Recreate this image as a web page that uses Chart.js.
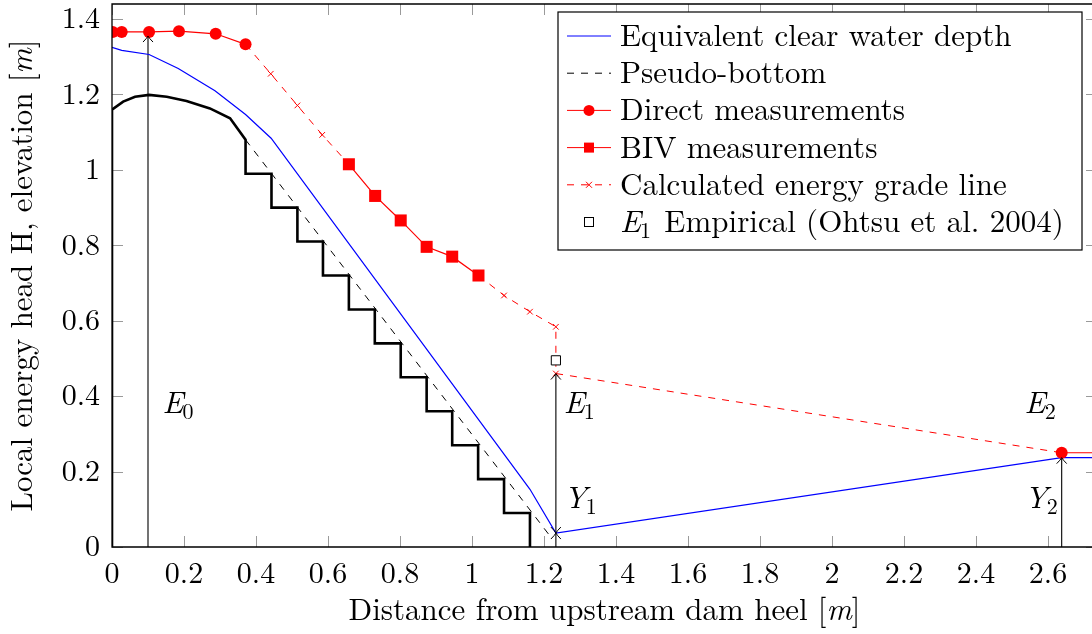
<!DOCTYPE html>
<html>
<head>
<meta charset="utf-8">
<script src="https://cdn.jsdelivr.net/npm/chart.js@4.4.1/dist/chart.umd.min.js"></script>
<style>
  html, body { margin: 0; padding: 0; background: #fff; overflow: hidden; }
  #wrap { width: 1092px; height: 634px; }
  .preload { position: absolute; left: 0; top: 0; visibility: hidden; font-family: "Latin Modern Roman", serif; }
</style>
</head>
<body>
<span class="preload">Distance <i>E m</i></span>
<div id="wrap"><canvas id="energyChart" width="1092" height="634"></canvas></div>
<script>
// values, distances and elevations in m
const xTicks = [0, 0.2, 0.4, 0.6, 0.8, 1, 1.2, 1.4, 1.6, 1.8, 2, 2.2, 2.4, 2.6];
const yTicks = [0, 0.2, 0.4, 0.6, 0.8, 1, 1.2, 1.4];

// ogee crest, then stepped chute (step edge x, tread level y)
const crestX = [0, 0.031, 0.064, 0.103, 0.152, 0.207, 0.272, 0.328, 0.371];
const crestY = [1.16, 1.181, 1.194, 1.199, 1.194, 1.183, 1.163, 1.137, 1.08];
const stepX = [0.371, 0.443, 0.515, 0.586, 0.658, 0.730, 0.802, 0.874, 0.945, 1.017, 1.089, 1.161];
const stepY = [1.08, 0.99, 0.90, 0.81, 0.72, 0.63, 0.54, 0.45, 0.36, 0.27, 0.18, 0.09];

const pseudoX = [0.371, 1.22];
const pseudoY = [1.08, 0.025];

const depthX = [0, 0.027, 0.103, 0.184, 0.286, 0.371, 0.442, 1.161, 1.233, 2.638, 2.9];
const depthY = [1.325, 1.317, 1.306, 1.269, 1.21, 1.147, 1.084, 0.153, 0.037, 0.237, 0.237];

const directX = [0.002, 0.027, 0.103, 0.186, 0.288, 0.371, null, 2.638, 2.9];
const directY = [1.366, 1.366, 1.366, 1.368, 1.361, 1.333, null, 0.25, 0.25];

const bivX = [0.658, 0.731, 0.802, 0.874, 0.945, 1.018];
const bivY = [1.015, 0.931, 0.866, 0.796, 0.770, 0.720];

const gradeX = [0.371, 0.441, 0.515, 0.584, 0.658, null, 1.018, 1.089, 1.161, 1.233, 1.233, 2.638];
const gradeY = [1.333, 1.255, 1.171, 1.093, 1.015, null, 0.720, 0.667, 0.624, 0.584, 0.46, 0.25];

const empiricalX = [1.233];
const empiricalY = [0.495];

// vertical arrows: x, start, tip
const arrowX = [0.1, 1.233, 1.233, 2.638];
const arrowFrom = [0, 0.037, 0, 0];
const arrowTo = [1.355, 0.46, 0.037, 0.237];

const noteMain = ['E', 'E', 'Y', 'E', 'Y'];
const noteSub = ['0', '1', '1', '2', '2'];
const noteX = [0.14, 1.255, 1.255, 2.535, 2.535];
const noteY = [0.355, 0.355, 0.103, 0.355, 0.103];

const legendLabels = [
  'Equivalent clear water depth',
  'Pseudo-bottom',
  'Direct measurements',
  'BIV measurements',
  'Calculated energy grade line',
  'Empirical (Ohtsu et al. 2004)'
];

const SERIF = '"Latin Modern Roman", "Liberation Serif", serif';

function pts(xs, ys) {
  return xs.map((x, i) => ({ x: x, y: ys[i] }));
}

function buildProfile() {
  const p = [{ x: 0, y: 0 }];
  crestX.forEach((x, i) => p.push({ x: x, y: crestY[i] }));
  for (let k = 0; k < stepX.length; k++) {
    const next = k + 1 < stepY.length ? stepY[k + 1] : 0;
    p.push({ x: stepX[k], y: next });
    if (k + 1 < stepX.length) p.push({ x: stepX[k + 1], y: next });
  }
  return p;
}

function arrowData() {
  const sets = [];
  arrowX.forEach((x, i) => {
    sets.push({ x: x, y: arrowFrom[i] });
    sets.push({ x: x, y: arrowTo[i] });
    sets.push({ x: null, y: null });
  });
  return sets;
}

function chevron(ctx, x, y, dir) {
  ctx.beginPath();
  ctx.moveTo(x - 5, y + 6 * dir);
  ctx.quadraticCurveTo(x - 1, y + 2 * dir, x, y);
  ctx.quadraticCurveTo(x + 1, y + 2 * dir, x + 5, y + 6 * dir);
  ctx.stroke();
}

function drawMath(ctx, main, sub, x, y, size) {
  ctx.font = 'italic ' + size + 'px ' + SERIF;
  ctx.fillText(main, x, y);
  const w = ctx.measureText(main).width;
  ctx.font = Math.round(size * 0.7) + 'px ' + SERIF;
  ctx.fillText(sub, x + w - 1, y + size * 0.18);
  return w - 1 + ctx.measureText(sub).width;
}

// the plot frame of the original runs a few px past the right edge of the picture
const FRAME_RIGHT_OVERHANG = 5;

const framePlugin = {
  id: 'frame',
  beforeDatasetsDraw(chart) {
    const { ctx, chartArea: a, scales } = chart;
    const fr = a.right + FRAME_RIGHT_OVERHANG;
    ctx.save();
    ctx.strokeStyle = '#9a9a9a';
    ctx.lineWidth = 1;
    const len = 11;
    xTicks.forEach(v => {
      const px = Math.round(scales.x.getPixelForValue(v)) + 0.5;
      ctx.beginPath();
      ctx.moveTo(px, a.bottom); ctx.lineTo(px, a.bottom - len);
      ctx.moveTo(px, a.top); ctx.lineTo(px, a.top + len);
      ctx.stroke();
    });
    yTicks.forEach(v => {
      const py = Math.round(scales.y.getPixelForValue(v)) + 0.5;
      ctx.beginPath();
      ctx.moveTo(a.left, py); ctx.lineTo(a.left + len, py);
      ctx.moveTo(fr, py); ctx.lineTo(fr - len, py);
      ctx.stroke();
    });
    ctx.restore();
  },
  afterDatasetsDraw(chart) {
    const { ctx, chartArea: a, scales } = chart;
    ctx.save();
    ctx.strokeStyle = '#000';
    ctx.lineWidth = 1;
    arrowX.forEach((x, i) => {
      const px = scales.x.getPixelForValue(x);
      chevron(ctx, px, scales.y.getPixelForValue(arrowTo[i]), 1);
      if (arrowFrom[i] > 0) chevron(ctx, px, scales.y.getPixelForValue(arrowFrom[i]), -1);
    });
    ctx.lineWidth = 1.3;
    ctx.beginPath();
    ctx.moveTo(a.right + 10, a.top);
    ctx.lineTo(a.left, a.top);
    ctx.lineTo(a.left, a.bottom);
    ctx.lineTo(a.right + 10, a.bottom);
    ctx.stroke();
    ctx.fillStyle = '#000';
    ctx.textBaseline = 'alphabetic';
    ctx.textAlign = 'left';
    noteMain.forEach((m, i) => {
      drawMath(ctx, m, noteSub[i], scales.x.getPixelForValue(noteX[i]), scales.y.getPixelForValue(noteY[i]), 31);
    });
    ctx.restore();
  },
  afterDraw(chart) {
    const { ctx, chartArea: a } = chart;
    ctx.save();
    ctx.fillStyle = '#000';
    ctx.textBaseline = 'alphabetic';
    ctx.textAlign = 'left';
    const size = 31;
    function titleWidth(txt) {
      ctx.font = size + 'px ' + SERIF;
      const w = ctx.measureText(txt + '[').width + ctx.measureText(']').width;
      ctx.font = 'italic ' + size + 'px ' + SERIF;
      return w + ctx.measureText('m').width;
    }
    function drawTitle(txt, x0, y0) {
      let x = x0;
      ctx.font = size + 'px ' + SERIF;
      ctx.fillText(txt + '[', x, y0);
      x += ctx.measureText(txt + '[').width;
      ctx.font = 'italic ' + size + 'px ' + SERIF;
      ctx.fillText('m', x, y0);
      x += ctx.measureText('m').width;
      ctx.font = size + 'px ' + SERIF;
      ctx.fillText(']', x, y0);
    }
    const xt = 'Distance from upstream dam heel ';
    const cx = (a.left + a.right + FRAME_RIGHT_OVERHANG) / 2;
    drawTitle(xt, cx - titleWidth(xt) / 2, 620);
    const yt = 'Local energy head H, elevation ';
    const cy = (a.top + a.bottom) / 2;
    ctx.save();
    ctx.translate(31.5, cy);
    ctx.rotate(-Math.PI / 2);
    drawTitle(yt, -titleWidth(yt) / 2, 0);
    ctx.restore();

    // legend box in the upper right corner
    const fs = 31;
    const right = a.right - 10;
    const left = a.right - 534;
    const top = a.top + 8;
    const rowH = 37.2;
    const h = 238;
    ctx.fillStyle = '#fff';
    ctx.fillRect(left, top, right - left, h);
    ctx.strokeStyle = '#000';
    ctx.lineWidth = 1.2;
    ctx.strokeRect(left, top, right - left, h);
    const sx0 = left + 9, sx1 = left + 53, smid = (sx0 + sx1) / 2;
    legendLabels.forEach((t, i) => {
      const ry = top + 24 + i * rowH;
      ctx.save();
      ctx.lineWidth = 1;
      if (i === 0 || i === 2 || i === 3) {
        ctx.strokeStyle = i === 0 ? '#0000ff' : '#ff0000';
        ctx.beginPath(); ctx.moveTo(sx0, ry); ctx.lineTo(sx1, ry); ctx.stroke();
      }
      if (i === 1 || i === 4) {
        ctx.strokeStyle = i === 1 ? '#000' : '#ff0000';
        ctx.setLineDash([7, 7]);
        ctx.beginPath(); ctx.moveTo(sx0, ry); ctx.lineTo(sx1, ry); ctx.stroke();
        ctx.setLineDash([]);
      }
      ctx.fillStyle = '#ff0000';
      if (i === 2) { ctx.beginPath(); ctx.arc(smid, ry, 5.5, 0, Math.PI * 2); ctx.fill(); }
      if (i === 3) { ctx.fillRect(smid - 5, ry - 5, 10, 10); }
      if (i === 4) {
        ctx.strokeStyle = '#ff0000';
        ctx.beginPath();
        ctx.moveTo(smid - 3, ry - 3); ctx.lineTo(smid + 3, ry + 3);
        ctx.moveTo(smid - 3, ry + 3); ctx.lineTo(smid + 3, ry - 3);
        ctx.stroke();
      }
      if (i === 5) {
        ctx.strokeStyle = '#000';
        ctx.fillStyle = '#fff';
        ctx.fillRect(smid - 4.5, ry - 4.5, 9, 9);
        ctx.strokeRect(smid - 4.5, ry - 4.5, 9, 9);
      }
      ctx.restore();
      ctx.fillStyle = '#000';
      const tx = left + 62;
      const by = ry + 10;
      if (i === 5) {
        const w = drawMath(ctx, 'E', '1', tx, by, fs);
        ctx.font = fs + 'px ' + SERIF;
        ctx.fillText(' ' + t, tx + w + 3, by);
      } else {
        ctx.font = fs + 'px ' + SERIF;
        ctx.fillText(t, tx, by);
      }
    });
    ctx.restore();
  }
};

function noPadding(scale) {
  scale.paddingTop = 0;
  scale.paddingBottom = 0;
  scale.paddingLeft = 0;
  scale.paddingRight = 0;
}

function init() {
  const ctx = document.getElementById('energyChart').getContext('2d');
  new Chart(ctx, {
    type: 'line',
    data: {
      datasets: [
        {
          label: 'E1 Empirical (Ohtsu et al. 2004)',
          data: pts(empiricalX, empiricalY),
          showLine: false,
          pointStyle: 'rect',
          pointRadius: 6.5,
          borderColor: '#000',
          backgroundColor: '#fff',
          borderWidth: 1,
          order: 0
        },
        {
          label: 'Direct measurements',
          data: pts(directX, directY),
          borderColor: '#ff0000',
          backgroundColor: '#ff0000',
          borderWidth: 1.2,
          pointStyle: 'circle',
          pointRadius: 6,
          pointBorderWidth: 0,
          order: 1
        },
        {
          label: 'BIV measurements',
          data: pts(bivX, bivY),
          borderColor: '#ff0000',
          backgroundColor: '#ff0000',
          borderWidth: 1.2,
          pointStyle: 'rect',
          pointRadius: 8.5,
          pointBorderWidth: 0,
          order: 2
        },
        {
          label: 'Calculated energy grade line',
          data: pts(gradeX, gradeY),
          borderColor: '#ff0000',
          backgroundColor: '#ff0000',
          borderWidth: 1,
          borderDash: [7, 7],
          pointStyle: 'crossRot',
          pointRadius: 4,
          pointBorderWidth: 1,
          order: 3
        },
        {
          label: 'Equivalent clear water depth',
          data: pts(depthX, depthY),
          borderColor: '#0000ff',
          borderWidth: 1.2,
          pointRadius: 0,
          order: 4
        },
        {
          label: 'Pseudo-bottom',
          data: pts(pseudoX, pseudoY),
          borderColor: '#000',
          borderWidth: 1,
          borderDash: [7, 7],
          pointRadius: 0,
          order: 5
        },
        {
          label: 'Spillway profile',
          data: buildProfile(),
          borderColor: '#000',
          borderWidth: 2.6,
          pointRadius: 0,
          order: 6
        },
        {
          label: 'Arrows',
          data: arrowData(),
          borderColor: '#000',
          borderWidth: 1.1,
          pointRadius: 0,
          order: 7
        }
      ]
    },
    options: {
      responsive: false,
      animation: false,
      spanGaps: false,
      layout: { autoPadding: false, padding: { top: 4, right: 0, left: 0, bottom: 0 } },
      plugins: {
        legend: { display: false },
        tooltip: { enabled: false }
      },
      elements: { line: { tension: 0 } },
      scales: {
        x: {
          type: 'linear',
          min: 0,
          max: 2.7222,
          afterFit(scale) { scale.height = 87; noPadding(scale); },
          afterBuildTicks(scale) { scale.ticks = xTicks.map(v => ({ value: v })); },
          grid: { display: false, drawTicks: false },
          border: { display: false },
          ticks: {
            padding: 9,
            color: '#000',
            maxRotation: 0,
            autoSkip: false,
            font: { family: SERIF, size: 30 },
            callback: v => String(v)
          }
        },
        y: {
          type: 'linear',
          min: 0,
          max: 1.44,
          afterFit(scale) { scale.width = 112; noPadding(scale); },
          afterBuildTicks(scale) { scale.ticks = yTicks.map(v => ({ value: v })); },
          grid: { display: false, drawTicks: false },
          border: { display: false },
          ticks: {
            padding: 12,
            color: '#000',
            autoSkip: false,
            font: { family: SERIF, size: 30 },
            callback: v => String(v)
          }
        }
      }
    },
    plugins: [framePlugin]
  });
}

Promise.all([
  document.fonts.load('30px "Latin Modern Roman"'),
  document.fonts.load('italic 30px "Latin Modern Roman"')
]).catch(() => {}).then(init);
</script>
</body>
</html>
